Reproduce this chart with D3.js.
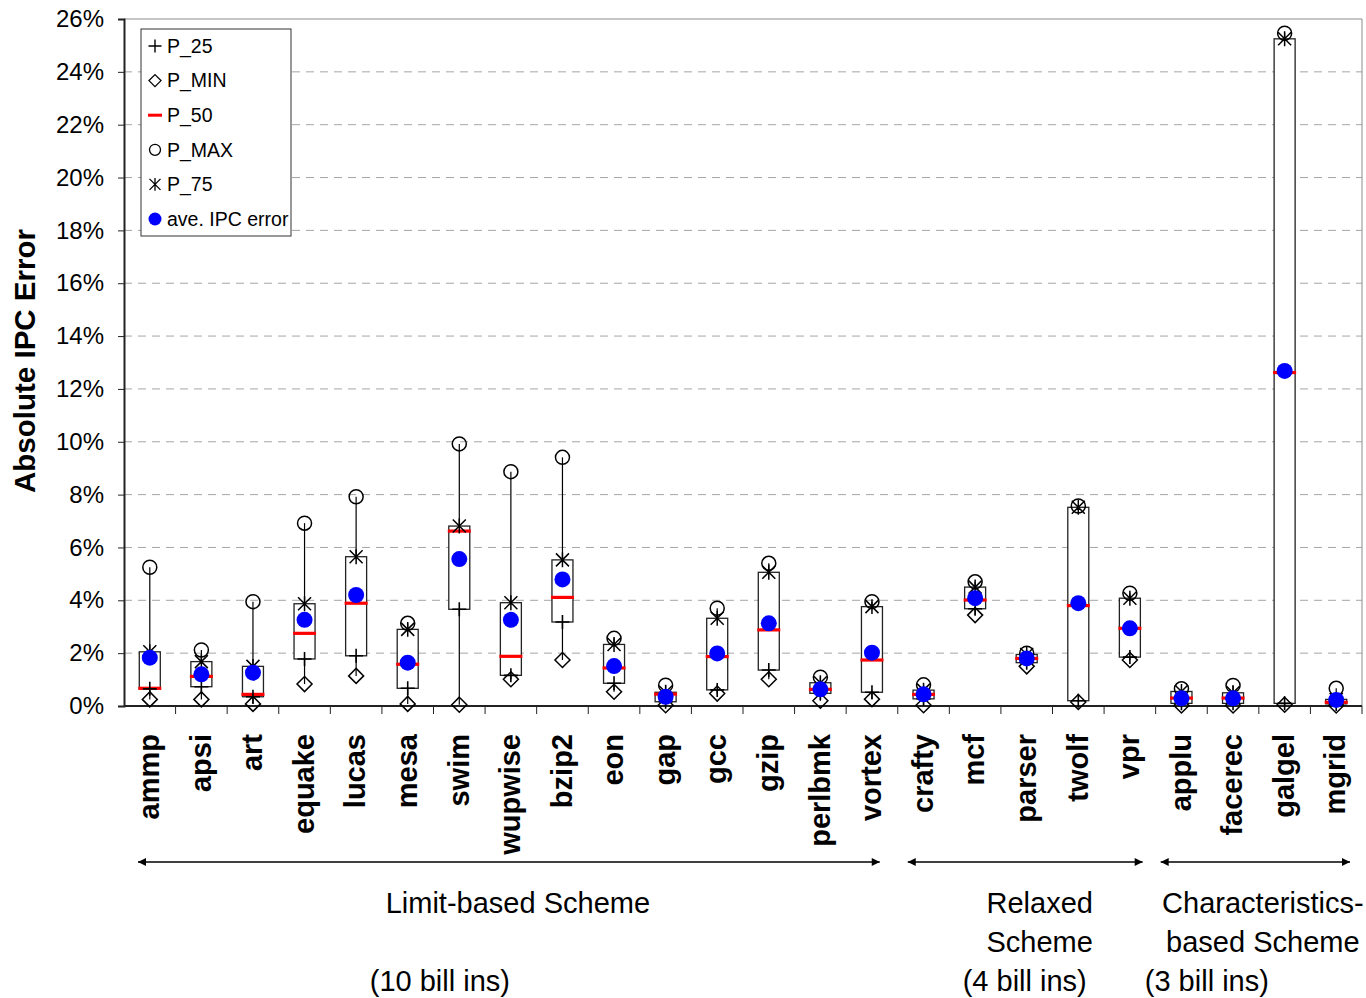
<!DOCTYPE html>
<html>
<head>
<meta charset="utf-8">
<script src="https://cdn.jsdelivr.net/npm/d3@7"></script>
<style>
  html, body { margin: 0; padding: 0; background: #fff; }
  svg { display: block; font-family: "Liberation Sans", Arial, sans-serif; }
</style>
</head>
<body>
<svg id="chart" width="1366" height="998"></svg>
<script>
// Benchmarks, in plotting order
const categories = ["ammp","apsi","art","equake","lucas","mesa","swim","wupwise","bzip2","eon",
  "gap","gcc","gzip","perlbmk","vortex","crafty","mcf","parser","twolf","vpr",
  "applu","facerec","galgel","mgrid"];

// Percentiles of absolute IPC error (%) per benchmark
const pMin = [0.25,0.25,0.08,0.83,1.14,0.08,0.05,1.01,1.74,0.54,0.03,0.47,1.01,0.20,0.26,0.03,3.44,1.50,0.15,1.74,0.02,0.02,0.05,0.02];
const p25  = [0.65,0.73,0.35,1.78,1.90,0.67,3.66,1.16,3.18,0.86,0.16,0.61,1.36,0.48,0.52,0.27,3.68,1.64,0.20,1.85,0.10,0.10,0.10,0.08];
const p50  = [0.67,1.12,0.44,2.75,3.89,1.58,6.62,1.88,4.11,1.44,0.45,1.87,2.88,0.63,1.74,0.44,4.01,1.80,3.80,2.94,0.30,0.30,12.62,0.14];
const p75  = [2.05,1.68,1.50,3.87,5.65,2.90,6.81,3.91,5.53,2.33,0.52,3.32,5.06,0.88,3.76,0.60,4.50,1.95,7.52,4.08,0.55,0.50,25.25,0.25];
const pMax = [5.25,2.12,3.95,6.92,7.92,3.13,9.92,8.87,9.41,2.56,0.79,3.70,5.40,1.09,3.95,0.80,4.70,2.00,7.57,4.27,0.65,0.78,25.46,0.67];
const avg  = [1.83,1.20,1.26,3.26,4.20,1.64,5.56,3.26,4.79,1.51,0.35,1.99,3.13,0.63,2.02,0.44,4.08,1.80,3.89,2.94,0.29,0.29,12.68,0.23];

// Y axis ticks (%)
const yTicks = d3.range(0, 27, 2);

// Legend entries
const legendLabels = ["P_25","P_MIN","P_50","P_MAX","P_75","ave. IPC error"];

// Scheme groups along the x axis
const groupFirst = ["ammp","crafty","applu"];
const groupLast  = ["vortex","vpr","mgrid"];
const groupTitle = [["Limit-based Scheme"],["Relaxed","Scheme"],["Characteristics-","based Scheme"]];
const groupNote  = ["(10 bill ins)","(4 bill ins)","(3 bill ins)"];

const rows = categories.map((c, i) => ({
  name: c, min: pMin[i], q1: p25[i], med: p50[i], q3: p75[i], max: pMax[i], avg: avg[i]
}));

const svg = d3.select("#chart");
const plotLeft = 124, plotRight = 1362, plotTop = 19, plotBottom = 706;

const x = d3.scaleBand().domain(categories).range([plotLeft, plotRight]);
const y = d3.scaleLinear().domain([0, 26]).range([plotBottom, plotTop]);
const cx = d => x(d) + x.bandwidth() / 2;

// Gridlines
svg.append("g").selectAll("line")
  .data(yTicks.filter(t => t > 0 && t < 26))
  .join("line")
  .attr("x1", plotLeft).attr("x2", plotRight)
  .attr("y1", d => y(d)).attr("y2", d => y(d))
  .attr("stroke", "#a6a6a6").attr("stroke-width", 1)
  .attr("stroke-dasharray", "8,6");

// Plot frame (top / right)
svg.append("path")
  .attr("d", `M${plotLeft},${y(26)}H${plotRight}V${plotBottom}`)
  .attr("fill", "none").attr("stroke", "#8c8c8c").attr("stroke-width", 1);

// Y axis
const yAxis = d3.axisLeft(y).tickValues(yTicks).tickFormat(d => d + "%").tickSize(6).tickPadding(14);
const gy = svg.append("g").attr("transform", `translate(${plotLeft},0)`).call(yAxis);
gy.select(".domain").attr("stroke", "#222").attr("stroke-width", 2);
gy.selectAll(".tick line").attr("stroke", "#222");
gy.selectAll(".tick text").attr("font-size", 24).attr("fill", "#000")
  .attr("font-family", "'Liberation Sans', Arial, sans-serif");

// X axis: ticks between categories
const gx = svg.append("g").attr("transform", `translate(0,${plotBottom})`);
gx.append("line").attr("x1", plotLeft).attr("x2", plotRight).attr("y1", 0).attr("y2", 0)
  .attr("stroke", "#222").attr("stroke-width", 2);
gx.selectAll("line.tk")
  .data(categories)
  .join("line").attr("class", "tk")
  .attr("x1", d => x(d) + x.bandwidth())
  .attr("x2", d => x(d) + x.bandwidth())
  .attr("y1", 0).attr("y2", 8)
  .attr("stroke", "#222").attr("stroke-width", 1);

// Category labels (rotated)
svg.append("g").selectAll("text")
  .data(categories)
  .join("text")
  .attr("transform", d => `translate(${cx(d)},734) rotate(-90)`)
  .attr("dy", "0.32em")
  .attr("text-anchor", "end")
  .attr("font-size", 29).attr("font-weight", "bold")
  .text(d => d);

// Y axis title
svg.append("text")
  .attr("transform", "translate(25,361) rotate(-90)")
  .attr("dy", "0.35em")
  .attr("text-anchor", "middle")
  .attr("font-size", 29.5).attr("font-weight", "bold")
  .text("Absolute IPC Error");

// Marker shapes
const sym = {
  plus: s => `M${-s},0H${s}M0,${-s}V${s}`,
  diamond: s => `M0,${-s}L${s},0L0,${s}L${-s},0Z`,
  star: s => `M${-s},${-s}L${s},${s}M${-s},${s}L${s},${-s}M0,${-s * 1.15}V${s * 1.15}`
};

const g = svg.append("g");
const item = g.selectAll("g.item").data(rows).join("g").attr("class", "item")
  .attr("transform", d => `translate(${cx(d.name)},0)`);

const boxW = 21;
// high-low line
item.append("line")
  .attr("y1", d => y(d.min)).attr("y2", d => y(d.max))
  .attr("stroke", "#000").attr("stroke-width", 1.2);
// inter-quartile box
item.append("rect")
  .attr("x", -boxW / 2).attr("width", boxW)
  .attr("y", d => y(d.q3)).attr("height", d => y(d.q1) - y(d.q3))
  .attr("fill", "#fff").attr("stroke", "#222").attr("stroke-width", 1.3);
// median dash
item.append("line")
  .attr("x1", -11.5).attr("x2", 11.5)
  .attr("y1", d => y(d.med)).attr("y2", d => y(d.med))
  .attr("stroke", "#ff0000").attr("stroke-width", 3.2);
// P_25
item.append("path")
  .attr("transform", d => `translate(0,${y(d.q1)})`)
  .attr("d", sym.plus(7)).attr("stroke", "#000").attr("stroke-width", 1.6).attr("fill", "none");
// P_MIN
item.append("path")
  .attr("transform", d => `translate(0,${y(d.min)})`)
  .attr("d", sym.diamond(7.5)).attr("stroke", "#000").attr("stroke-width", 1.5).attr("fill", "none");
// P_MAX
item.append("circle")
  .attr("cy", d => y(d.max)).attr("r", 7)
  .attr("stroke", "#000").attr("stroke-width", 1.5).attr("fill", "none");
// P_75
item.append("path")
  .attr("transform", d => `translate(0,${y(d.q3)})`)
  .attr("d", sym.star(6.5)).attr("stroke", "#000").attr("stroke-width", 1.5).attr("fill", "none");
// average
item.append("circle")
  .attr("cy", d => y(d.avg)).attr("r", 8)
  .attr("fill", "#0000ff");

// Legend
const lg = svg.append("g").attr("transform", "translate(141,29)");
lg.append("rect").attr("width", 150).attr("height", 207)
  .attr("fill", "#fff").attr("stroke", "#333").attr("stroke-width", 1);
const le = lg.selectAll("g.le").data(legendLabels).join("g").attr("class", "le")
  .attr("transform", (d, i) => `translate(14,${17 + i * 34.6})`);
le.append("text").attr("x", 12).attr("dy", "0.35em").attr("font-size", 19.5).text(d => d);
le.each(function (d, i) {
  const s = d3.select(this);
  if (i === 0) s.append("path").attr("d", sym.plus(6.5)).attr("stroke", "#000").attr("stroke-width", 1.4);
  if (i === 1) s.append("path").attr("d", sym.diamond(6)).attr("stroke", "#000").attr("stroke-width", 1.3).attr("fill", "none");
  if (i === 2) s.append("line").attr("x1", -7).attr("x2", 7).attr("stroke", "#ff0000").attr("stroke-width", 3);
  if (i === 3) s.append("circle").attr("r", 5.5).attr("stroke", "#000").attr("stroke-width", 1.3).attr("fill", "none");
  if (i === 4) s.append("path").attr("d", sym.star(5.5)).attr("stroke", "#000").attr("stroke-width", 1.3).attr("fill", "none");
  if (i === 5) s.append("circle").attr("r", 6.5).attr("fill", "#0000ff");
});

// Scheme group arrows and captions
const defs = svg.append("defs");
defs.append("marker").attr("id", "ah").attr("viewBox", "0 0 10 10")
  .attr("refX", 10).attr("refY", 5).attr("markerWidth", 10).attr("markerHeight", 8)
  .attr("markerUnits", "userSpaceOnUse").attr("orient", "auto-start-reverse")
  .append("path").attr("d", "M0,0L10,5L0,10Z").attr("fill", "#000");

const insetL = [14, 10, 5], insetR = [18, 13, 12];
const titleShift = [7, 13, 4], noteShift = [-71, -2, -52];
groupFirst.forEach((f, i) => {
  const x0 = x(f) + insetL[i];
  const x1 = x(groupLast[i]) + x.bandwidth() - insetR[i];
  const mid = (x(f) + x(groupLast[i]) + x.bandwidth()) / 2;
  svg.append("line").attr("x1", x0).attr("x2", x1).attr("y1", 862).attr("y2", 862)
    .attr("stroke", "#000").attr("stroke-width", 1.3)
    .attr("marker-start", "url(#ah)").attr("marker-end", "url(#ah)");
  groupTitle[i].forEach((t, j) => {
    svg.append("text").attr("x", mid + titleShift[i]).attr("y", 903 + j * 39)
      .attr("dy", "0.35em").attr("text-anchor", "middle").attr("font-size", 29).text(t);
  });
  svg.append("text").attr("x", mid + noteShift[i]).attr("y", 981)
    .attr("dy", "0.35em").attr("text-anchor", "middle").attr("font-size", 29).text(groupNote[i]);
});
</script>
</body>
</html>
